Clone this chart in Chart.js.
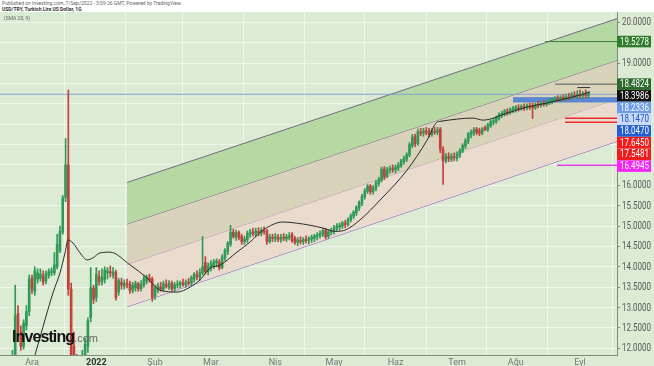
<!DOCTYPE html>
<html>
<head>
<meta charset="utf-8">
<script src="https://cdn.jsdelivr.net/npm/chart.js@4.4.0/dist/chart.umd.min.js"></script>
<style>
  html, body { margin: 0; padding: 0; background: #fff; }
  #wrap { position: relative; width: 654px; height: 366px; overflow: hidden; font-family: Roboto, "Liberation Sans", sans-serif; }
  #head { position: absolute; left: 2px; top: 0; font-size: 5px; line-height: 6px; color: #666; white-space: nowrap; }
  #head b { color: #333; }
  #box { position: absolute; left: 0; top: 12px; width: 654px; height: 354px; background: #dcebd4; }
  #ind { position: absolute; left: 4px; top: 15px; font-size: 5px; color: #666; }
  #logo { position: absolute; left: 12px; top: 327px; white-space: nowrap; }
  #logo .a { font: bold 16px "Liberation Sans", Arial, sans-serif; letter-spacing: -0.9px; color: #111; }
  #logo .b { font: 11px "Liberation Sans", Arial, sans-serif; color: #666; }
</style>
</head>
<body>
<div id="wrap">
  <div id="head">Published on Investing.com, 7/Sep/2022 - 3:09:26 GMT, Powered by TradingView.<br><b>USD/TRY, Turkish Lira US Dollar, 1G</b></div>
  <div id="box"><canvas id="chart" width="654" height="354"></canvas></div>
  <div id="ind">(SMA 20, 9)</div>
  <div id="logo"><span class="a">Investing</span><span class="b">.com</span></div>
</div>
<script>
// Daily candles, index 0 = 1 Dec 2021 (trading days only)
const firstIdx = -10;
const opens = [
  10.60,10.72,11.08,11.14,11.55,12.85,12.40,12.05,12.55,12.90,
  13.72,13.40,13.70,13.72,13.78,13.65,13.80,13.86,13.85,14.00,
  14.40,14.85,15.70,16.50,13.45,12.05,11.60,11.30,11.55,11.65,
  12.05,12.75,13.48,13.25,13.75,13.62,13.68,13.85,13.88,13.80,
  13.86,13.38,13.62,13.52,13.58,13.58,13.42,13.48,13.58,13.46,
  13.55,13.65,13.72,13.70,13.28,13.42,13.50,13.45,13.56,13.50,
  13.60,13.46,13.55,13.56,13.60,13.55,13.62,13.60,13.70,13.80,
  13.74,13.85,14.10,13.88,13.98,14.02,14.10,14.12,13.98,14.22,
  14.38,14.55,14.85,14.72,14.84,14.74,14.62,14.66,14.80,14.85,
  14.80,14.86,14.82,14.88,14.88,14.62,14.72,14.68,14.72,14.66,
  14.72,14.68,14.72,14.80,14.70,14.60,14.64,14.62,14.66,14.64,
  14.68,14.70,14.75,14.76,14.80,14.90,14.74,14.85,14.86,14.95,
  14.98,15.00,15.06,15.04,15.15,15.24,15.32,15.44,15.56,15.72,
  15.85,15.98,15.84,15.92,16.04,16.12,16.40,16.22,16.38,16.40,
  16.38,16.42,16.48,16.58,16.64,16.74,16.98,17.20,17.02,17.30,
  17.28,17.32,17.34,17.24,17.32,17.30,17.38,16.88,16.60,16.70,
  16.64,16.70,16.66,16.74,16.84,16.96,17.08,17.24,17.28,17.38,
  17.34,17.28,17.42,17.36,17.46,17.55,17.56,17.64,17.72,17.74,
  17.80,17.78,17.85,17.86,17.90,17.88,17.92,17.90,17.94,17.96,
  17.90,17.97,17.96,18.00,17.98,18.02,18.06,18.08,18.12,18.10,
  18.14,18.12,18.16,18.14,18.20,18.18,18.22,18.20,18.22,18.20
];
const highs = [
  10.80,11.35,11.30,11.95,13.55,13.05,12.55,12.70,13.05,13.80,
  13.80,14.00,13.95,13.95,13.90,13.90,13.95,13.98,14.35,14.80,
  15.00,15.75,17.15,18.34,13.60,12.40,11.85,11.75,11.95,12.25,
  12.75,13.98,13.55,13.98,13.90,13.95,14.00,13.98,14.02,13.98,
  13.92,13.72,13.72,13.68,13.70,13.65,13.62,13.65,13.62,13.66,
  13.80,13.80,13.82,13.75,13.55,13.60,13.62,13.65,13.68,13.66,
  13.65,13.62,13.66,13.65,13.70,13.68,13.72,13.78,13.86,13.90,
  13.95,14.75,14.25,14.10,14.15,14.18,14.20,14.18,14.30,14.45,
  14.62,15.02,14.92,14.90,14.88,14.80,14.75,14.88,14.92,14.95,
  14.95,14.96,14.96,14.98,14.92,14.80,14.80,14.82,14.80,14.80,
  14.82,14.80,14.84,14.84,14.75,14.72,14.74,14.72,14.76,14.74,
  14.78,14.80,14.84,14.88,14.94,14.94,14.92,14.95,15.02,15.06,
  15.08,15.12,15.14,15.20,15.30,15.38,15.50,15.62,15.78,15.92,
  16.02,16.02,16.00,16.12,16.20,16.45,16.46,16.44,16.48,16.50,
  16.50,16.56,16.64,16.72,16.80,17.05,17.25,17.26,17.38,17.40,
  17.40,17.42,17.40,17.40,17.42,17.42,17.42,16.95,16.78,16.80,
  16.78,16.80,16.82,16.90,17.02,17.15,17.30,17.36,17.42,17.42,
  17.40,17.42,17.46,17.52,17.60,17.64,17.70,17.78,17.82,17.86,
  17.88,17.90,17.94,17.96,17.98,17.98,18.00,18.00,18.02,18.02,
  18.02,18.06,18.06,18.08,18.08,18.12,18.14,18.18,18.20,18.20,
  18.22,18.24,18.26,18.28,18.30,18.32,18.34,18.30,18.34,18.30
];
const lows = [
  10.55,10.70,10.90,11.10,11.40,12.30,11.95,11.98,12.45,12.80,
  13.35,13.30,13.60,13.65,13.55,13.58,13.72,13.78,13.80,13.95,
  14.35,14.80,15.60,13.30,11.40,11.20,10.25,11.10,11.35,11.55,
  11.90,12.65,13.10,13.15,13.55,13.55,13.60,13.70,13.75,13.72,
  13.18,13.30,13.45,13.45,13.48,13.35,13.36,13.40,13.40,13.40,
  13.50,13.58,13.62,13.15,13.20,13.36,13.40,13.40,13.48,13.44,
  13.40,13.40,13.48,13.48,13.52,13.50,13.55,13.55,13.62,13.68,
  13.66,13.80,13.82,13.80,13.90,13.95,14.00,13.92,13.95,14.15,
  14.30,14.50,14.70,14.65,14.66,14.55,14.55,14.60,14.72,14.75,
  14.74,14.76,14.76,14.80,14.55,14.58,14.62,14.62,14.62,14.60,
  14.64,14.62,14.66,14.60,14.55,14.52,14.56,14.55,14.58,14.56,
  14.60,14.62,14.66,14.70,14.74,14.68,14.70,14.78,14.80,14.88,
  14.90,14.94,14.96,15.00,15.10,15.18,15.26,15.38,15.50,15.66,
  15.80,15.78,15.78,15.86,15.98,16.08,16.14,16.18,16.30,16.32,
  16.30,16.36,16.44,16.52,16.58,16.70,16.92,16.95,16.98,17.22,
  17.20,17.24,17.18,17.20,17.25,17.24,16.80,16.02,16.55,16.58,
  16.58,16.60,16.60,16.68,16.80,16.90,17.02,17.16,17.22,17.24,
  17.22,17.24,17.34,17.32,17.42,17.48,17.52,17.60,17.66,17.70,
  17.72,17.74,17.78,17.80,17.82,17.84,17.84,17.85,17.86,17.64,
  17.86,17.90,17.92,17.94,17.94,17.98,18.00,18.04,18.06,18.06,
  18.08,18.08,18.10,18.10,18.14,18.12,18.14,18.12,18.14,18.14
];
const closes = [
  10.72,11.08,11.14,11.55,12.80,12.40,12.05,12.62,12.90,13.70,
  13.45,13.90,13.85,13.82,13.62,13.83,13.88,13.90,14.05,14.55,
  14.88,15.70,16.50,13.45,11.80,11.60,11.30,11.55,11.65,12.10,
  12.68,13.48,13.20,13.82,13.65,13.75,13.92,13.90,13.85,13.88,
  13.24,13.66,13.55,13.60,13.56,13.42,13.55,13.60,13.46,13.58,
  13.72,13.74,13.68,13.24,13.48,13.54,13.46,13.58,13.52,13.60,
  13.46,13.56,13.58,13.62,13.56,13.63,13.60,13.74,13.82,13.76,
  13.86,14.00,13.88,14.02,14.08,14.12,14.14,13.98,14.24,14.40,
  14.58,14.85,14.74,14.84,14.72,14.62,14.68,14.82,14.86,14.82,
  14.88,14.84,14.90,14.86,14.62,14.74,14.70,14.74,14.68,14.73,
  14.70,14.74,14.76,14.64,14.60,14.66,14.62,14.67,14.64,14.70,
  14.72,14.76,14.78,14.82,14.88,14.74,14.86,14.88,14.96,15.00,
  15.02,15.08,15.04,15.16,15.26,15.34,15.46,15.58,15.72,15.86,
  15.98,15.84,15.94,16.06,16.14,16.40,16.20,16.38,16.42,16.38,
  16.44,16.50,16.60,16.66,16.75,17.00,17.18,17.02,17.32,17.28,
  17.34,17.30,17.24,17.34,17.30,17.36,16.88,16.60,16.72,16.66,
  16.72,16.68,16.76,16.86,16.98,17.10,17.26,17.30,17.36,17.30,
  17.28,17.38,17.36,17.48,17.56,17.58,17.66,17.74,17.76,17.82,
  17.78,17.86,17.88,17.92,17.88,17.94,17.90,17.96,17.92,17.90,
  17.98,17.96,18.02,17.98,18.04,18.08,18.10,18.14,18.10,18.16,
  18.12,18.18,18.14,18.22,18.18,18.24,18.20,18.24,18.20,18.25
];

// Moving average
const maIdx  = [1.1, 3.9, 7.5, 10, 11.8, 12.9, 14.7, 17.2, 19.7, 21.8, 24.3, 27.9, 35, 41.1, 45.8, 51.9, 56.5, 60.1, 63.7, 67.2,
                73.3, 78, 82.6, 89.8, 94.8, 99.4, 104.1, 108.4, 111.9, 117.3, 124.5, 134.1, 141.3, 144.8, 145.9, 157.7, 161.3, 169.9, 177, 184.2, 193.5, 199.6];
const maVals = [11.84, 12.52, 13.36, 13.85, 14.34, 14.66, 14.58, 14.34, 14.17, 14.22, 14.34, 14.36, 14.05, 13.73, 13.43, 13.38, 13.50, 13.68, 13.97, 14.04,
                14.36, 14.61, 14.90, 15.10, 15.07, 15.02, 14.95, 14.87, 14.90, 15.15, 15.64, 16.37, 17.11, 17.55, 17.57, 17.65, 17.60, 17.77, 17.92, 18.02, 18.17, 18.29];

// Parallel channel: value of each line at the start and at the right edge
const chanStartIdx = 34;
const chanEndIdx = 209.2;
const chanStart = [16.07, 15.05, 14.06, 13.02];
const chanEnd   = [20.09, 19.07, 18.12, 17.08];

// Horizontal levels and their tags on the price axis
const levelValues = [19.5278, 18.4824, 18.3986, 18.2336, 18.1470, 18.0470, 17.6450, 17.5481, 16.4945];
const levelFrom   = [183.5, 187, 195, -11.44, 172, 172, 190.6, 190.6, 187.8];
const levelTo     = [209.2, 209.2, 199.6, 209.2, 209.2, 209.2, 209.2, 209.2, 209.2];

// Axis ticks
const monthLabels = ['Ara', '2022', 'Şub', 'Mar', 'Nis', 'May', 'Haz', 'Tem', 'Ağu', 'Eyl'];
const monthStartIdx = [0, 23, 44, 64, 87, 108, 130, 152, 173, 196];
const yGridValues = [12, 12.5, 13, 13.5, 14, 14.5, 15, 15.5, 16, 16.5, 17, 17.5, 18, 18.5, 19, 19.5, 20];
const yTickLabels = [12, 12.5, 13, 13.5, 14, 14.5, 15, 15.5, 16, 19, 20];

const X_MIN = -11.44, X_MAX = 209.2;
const Y_MIN = 11.836, Y_MAX = 20.253;

const UP = '#2f9a57';
const DOWN = '#c2413b';
const levelLine = ['#3f7d35', '#505c4c', '#333333', 'rgba(120,150,215,0.85)', '#4f7fd6', '#4f7fd6', '#ee2a2a', '#ee2a2a', '#e03ae0'];
const tagBg = ['#2f7d2a', '#2d6a2b', '#111111', '#6d9eeb', '#c9daf8', '#1f5fd1', '#f21a1a', '#ee1c1c', '#f724f7'];
const tagFg = ['#fff', '#fff', '#fff', '#fff', '#2255cc', '#fff', '#fff', '#fff', '#fff'];
const chanLine = ['#6f6a86', '#7b5b90', '#c495b4', '#8a55c0'];
const chanFill = ['#b6d9a3', '#d9d3bb', '#e9dccf'];

const xs = closes.map((_, k) => firstIdx + k);
const candleColor = c => closes[c.dataIndex] >= opens[c.dataIndex] ? UP : DOWN;

const datasets = [];

// channel lines with band fills
chanStart.forEach((v, k) => {
    datasets.push({
        type: 'line',
        data: [{ x: chanStartIdx, y: v }, { x: chanEndIdx, y: chanEnd[k] }],
        borderColor: chanLine[k],
        borderWidth: 1,
        pointRadius: 0,
        fill: k < chanFill.length ? '+1' : false,
        backgroundColor: chanFill[k] || 'transparent',
        order: 10
    });
});

// horizontal levels (blue zone is the pair 18.1470 / 18.0470)
levelValues.forEach((v, k) => {
    datasets.push({
        type: 'line',
        data: [{ x: levelFrom[k], y: v }, { x: levelTo[k], y: v }],
        borderColor: levelLine[k],
        borderWidth: (k === 6 || k === 7 || k === 8) ? 1.5 : 1,
        pointRadius: 0,
        fill: k === 4 ? '+1' : false,
        backgroundColor: 'rgba(79,127,214,0.9)',
        order: 6
    });
});

datasets.push({
    label: 'wicks',
    data: xs.map((x, k) => ({ x, y: [lows[k], highs[k]] })),
    backgroundColor: candleColor,
    barThickness: 1,
    grouped: false,
    order: 3
});
datasets.push({
    label: 'bodies',
    data: xs.map((x, k) => ({ x, y: [opens[k], closes[k]] })),
    backgroundColor: candleColor,
    barThickness: 2,
    minBarLength: 1,
    grouped: false,
    order: 2
});
datasets.push({
    type: 'line',
    data: maIdx.map((x, k) => ({ x, y: maVals[k] })),
    borderColor: '#2b2b2b',
    borderWidth: 1,
    pointRadius: 0,
    cubicInterpolationMode: 'monotone',
    fill: false,
    order: 1
});

// narrow text like the original price scale
function narrowText(ctx, text, x, y, color) {
    ctx.save();
    ctx.translate(x, y);
    ctx.scale(0.8, 1);
    ctx.fillStyle = color;
    ctx.fillText(text, 0, 0);
    ctx.restore();
}

// price axis labels and stacked level tags
const priceAxis = {
    id: 'priceAxis',
    afterDraw(chart) {
        const { ctx, chartArea, scales } = chart;
        ctx.save();
        ctx.font = '10px Roboto, sans-serif';
        ctx.textBaseline = 'middle';
        yTickLabels.forEach(v => {
            narrowText(ctx, v.toFixed(4), chartArea.right + 5, scales.y.getPixelForValue(v) + 0.5, '#5a5a5a');
        });
        const items = levelValues.map((v, k) => ({ v, k, py: scales.y.getPixelForValue(v) }))
            .sort((a, b) => a.py - b.py);
        let prev = -Infinity;
        items.forEach(it => {
            const cy = Math.max(it.py, prev + 11.7);
            prev = cy;
            ctx.fillStyle = tagBg[it.k];
            ctx.fillRect(chartArea.right, cy - 5.8, 34, 11.6);
            narrowText(ctx, it.v.toFixed(4), chartArea.right + 3, cy + 0.5, tagFg[it.k]);
        });
        ctx.restore();
    }
};

new Chart(document.getElementById('chart'), {
    type: 'bar',
    data: { datasets },
    options: {
        responsive: false,
        animation: false,
        layout: { padding: 0 },
        plugins: { legend: { display: false }, tooltip: { enabled: false } },
        scales: {
            x: {
                type: 'linear',
                min: X_MIN,
                max: X_MAX,
                offset: false,
                afterBuildTicks: axis => { axis.ticks = monthStartIdx.map(v => ({ value: v })); },
                afterFit: axis => { axis.height = 11; },
                grid: { color: 'rgba(255,255,255,0.55)', drawTicks: false },
                border: { color: '#7f8c79' },
                ticks: {
                    autoSkip: false,
                    maxRotation: 0,
                    padding: 2,
                    color: c => c.tick && c.tick.value === 23 ? '#333' : '#777',
                    font: c => ({ size: 9, family: 'Roboto, sans-serif', weight: c.tick && c.tick.value === 23 ? 'bold' : 'normal' }),
                    callback: v => monthLabels[monthStartIdx.indexOf(v)]
                }
            },
            y: {
                position: 'right',
                min: Y_MIN,
                max: Y_MAX,
                afterBuildTicks: axis => { axis.ticks = yGridValues.map(v => ({ value: v })); },
                afterFit: axis => { axis.width = 37; },
                grid: { color: 'rgba(255,255,255,0.55)', tickLength: 3, tickColor: '#7f8c79' },
                border: { color: '#7f8c79' },
                ticks: { display: false }
            }
        }
    },
    plugins: [priceAxis]
});
</script>
</body>
</html>
